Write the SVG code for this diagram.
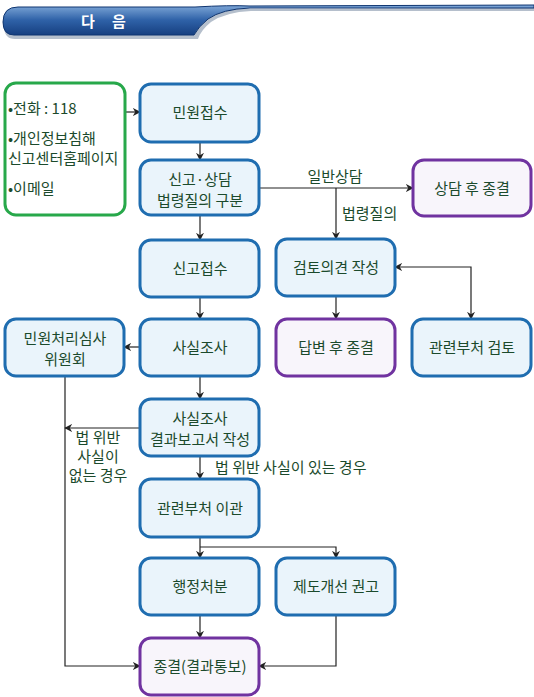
<svg xmlns="http://www.w3.org/2000/svg" width="534" height="697" viewBox="0 0 534 697">
<style>
text{font-family:"Malgun Gothic","Noto Sans CJK KR",sans-serif;font-size:15px;fill:#1b4a2c}
.c{text-anchor:middle}
.b{fill:#eaf4fb;stroke:#1f6db0;stroke-width:3}
.p{fill:#f8f5fb;stroke:#7033a0;stroke-width:3}
.g{fill:#ffffff;stroke:#27a84a;stroke-width:3}
.l{fill:none;stroke:#222;stroke-width:1.2}
.h{fill:#fff;font-weight:bold;font-size:15px}
</style>
<defs>
<marker id="a" viewBox="0 0 10 10" refX="9" refY="5" markerWidth="8" markerHeight="8" orient="auto-start-reverse" markerUnits="userSpaceOnUse">
<path d="M0,0 L10,5 L0,10 L3,5 Z" fill="#222"/>
</marker>
<linearGradient id="hg" x1="0" y1="0" x2="0" y2="1">
<stop offset="0" stop-color="#7fa8d8"/>
<stop offset="0.5" stop-color="#2f62a8"/>
<stop offset="1" stop-color="#163f80"/>
</linearGradient>
</defs>
<g id="header">
<path d="M200,9 Q235,6 250,7 L534,6 L534,9 L250,9 Q225,10 210,20 Q200,28 197,37 L14,37 Q3,37 3,24 Q3,8 18,8 Z" fill="#b5bfcc" transform="translate(1,2)"/>
<path d="M195,7 Q230,5 250,6 L534,5 L534,8 L250,8 Q222,9 208,19 Q198,27 194,35 L14,35 Q3,35 3,22 Q3,7 18,7 Z" fill="url(#hg)" stroke="#0f3570" stroke-width="1"/>
<text x="88" y="27" class="c h">다</text>
<text x="119" y="27" class="c h">음</text>
</g>
<g id="connectors">
<line class="l" x1="125" y1="112" x2="140" y2="112" marker-end="url(#a)"/>
<line class="l" x1="200" y1="142" x2="200" y2="160" marker-end="url(#a)"/>
<line class="l" x1="259" y1="188" x2="413" y2="188" marker-end="url(#a)"/>
<line class="l" x1="336" y1="188" x2="336" y2="239" marker-end="url(#a)"/>
<line class="l" x1="200" y1="215" x2="200" y2="240" marker-end="url(#a)"/>
<line class="l" x1="200" y1="297" x2="200" y2="319" marker-end="url(#a)"/>
<line class="l" x1="336" y1="296" x2="336" y2="319" marker-end="url(#a)"/>
<polyline class="l" points="395,267 471,267 471,319" marker-start="url(#a)" marker-end="url(#a)"/>
<line class="l" x1="140" y1="347" x2="124" y2="347" marker-end="url(#a)"/>
<line class="l" x1="200" y1="376" x2="200" y2="399" marker-end="url(#a)"/>
<line class="l" x1="140" y1="428" x2="65" y2="428" marker-end="url(#a)"/>
<polyline class="l" points="65,376 65,666 140,666" marker-end="url(#a)"/>
<line class="l" x1="200" y1="456" x2="200" y2="479" marker-end="url(#a)"/>
<line class="l" x1="200" y1="537" x2="200" y2="558" marker-end="url(#a)"/>
<polyline class="l" points="200,547 336,547 336,558" marker-end="url(#a)"/>
<line class="l" x1="200" y1="615" x2="200" y2="638" marker-end="url(#a)"/>
<polyline class="l" points="336,615 336,666 259,666" marker-end="url(#a)"/>
<text x="335" y="182" class="c">일반상담</text>
<text x="342" y="219">법령질의</text>
<text x="98" y="443" class="c">법 위반</text>
<text x="98" y="462" class="c">사실이</text>
<text x="98" y="481" class="c">없는 경우</text>
<text x="215" y="473">법 위반 사실이 있는 경우</text>
</g>
<g id="source">
<rect class="g" x="5" y="83" width="120" height="132" rx="11"/>
<text x="8" y="114">•전화 : 118</text>
<text x="8" y="144">•개인정보침해</text>
<text x="8" y="164">신고센터홈페이지</text>
<text x="8" y="194">•이메일</text>
</g>
<g id="n1"><rect class="b" x="140" y="84" width="119" height="58" rx="11"/><text x="200" y="118" class="c">민원접수</text></g>
<g id="n2"><rect class="b" x="140" y="160" width="119" height="55" rx="11"/><text x="200" y="185" class="c">신고·상담</text><text x="200" y="206" class="c">법령질의 구분</text></g>
<g id="n3"><rect class="p" x="413" y="160" width="118" height="56" rx="11"/><text x="472" y="194" class="c">상담 후 종결</text></g>
<g id="n4"><rect class="b" x="140" y="240" width="119" height="57" rx="11"/><text x="200" y="274" class="c">신고접수</text></g>
<g id="n5"><rect class="b" x="276" y="239" width="119" height="57" rx="11"/><text x="336" y="273" class="c">검토의견 작성</text></g>
<g id="n6"><rect class="b" x="5" y="319" width="119" height="57" rx="11"/><text x="65" y="344" class="c">민원처리심사</text><text x="65" y="365" class="c">위원회</text></g>
<g id="n7"><rect class="b" x="140" y="319" width="119" height="57" rx="11"/><text x="200" y="353" class="c">사실조사</text></g>
<g id="n8"><rect class="p" x="276" y="319" width="119" height="57" rx="11"/><text x="336" y="353" class="c">답변 후 종결</text></g>
<g id="n9"><rect class="b" x="412" y="319" width="119" height="57" rx="11"/><text x="472" y="353" class="c">관련부처 검토</text></g>
<g id="n10"><rect class="b" x="140" y="399" width="119" height="57" rx="11"/><text x="200" y="424" class="c">사실조사</text><text x="200" y="445" class="c">결과보고서 작성</text></g>
<g id="n11"><rect class="b" x="140" y="479" width="119" height="58" rx="11"/><text x="200" y="514" class="c">관련부처 이관</text></g>
<g id="n12"><rect class="b" x="140" y="558" width="119" height="57" rx="11"/><text x="200" y="592" class="c">행정처분</text></g>
<g id="n13"><rect class="b" x="276" y="558" width="119" height="57" rx="11"/><text x="336" y="592" class="c">제도개선 권고</text></g>
<g id="n14"><rect class="p" x="140" y="638" width="119" height="57" rx="11"/><text x="200" y="672" class="c">종결(결과통보)</text></g>
</svg>
